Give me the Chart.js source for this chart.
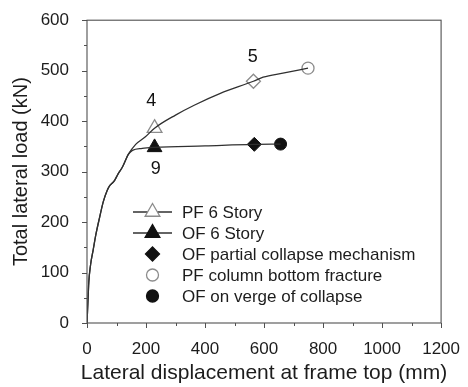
<!DOCTYPE html>
<html><head><meta charset="utf-8">
<script src="https://cdn.jsdelivr.net/npm/chart.js@4"></script>
<style>html,body{margin:0;padding:0;background:#fff}#wrap{width:468px;height:387px}</style>
</head><body><div id="wrap"><canvas id="c" width="468" height="387"></canvas></div>
<script>
// Pushover curves (lateral displacement at frame top in mm, total lateral load in kN)
const pfCurveX = [0,3,6,12,21,30,43,55,68,77,85,93,105,121,140,165,198,229,300,365,452,564,597,664,749];
const pfCurveY = [0,40,80,115,145,175,210,240,262,272,277,282,295,310,334,354,369,386,412,432,455,479,487,495,505];
const ofCurveX = [0,3,6,12,21,30,43,55,68,77,85,93,105,121,140,154,187,229,400,567,656];
const ofCurveY = [0,40,80,115,145,175,210,240,262,272,277,282,295,310,334,342,346,348,351,354,354.5];
// Marker points [mm, kN]
const pfStoryPt = [229,386];
const ofStoryPt = [229,348];
const pfDiamondPt = [564,479];
const ofCollapseMechPt = [567,354];
const pfFracturePt = [749,505];
const ofVergePt = [656,354.5];
// Annotations
const noteLabels = ['4','5','9'];
const notePts = [[218,440],[562,527],[233,305]];
// Legend
const legendLabels = ['PF 6 Story','OF 6 Story','OF partial collapse mechanism','PF column bottom fracture','OF on verge of collapse'];
// Axis titles and ticks
const xTitle = 'Lateral displacement at frame top (mm)';
const yTitle = 'Total lateral load (kN)';
const xTicks = [0,200,400,600,800,1000,1200];
const yTicks = [0,100,200,300,400,500,600];

const FONT = '"Liberation Sans", Arial, sans-serif';
const toXY = (xs, ys) => xs.map((x,i)=>({x, y: ys[i]}));
const pt = p => [{x:p[0], y:p[1]}];

const lineC = '#303030';
const openC = '#8c8c8c';
const darkC = '#111';
const textC = '#1c1c1c';

const datasets = [
  {data: toXY(pfCurveX,pfCurveY), borderColor: lineC, borderWidth: 1.3, pointRadius: 0, cubicInterpolationMode: 'monotone', showLine: true},
  {data: toXY(ofCurveX,ofCurveY), borderColor: lineC, borderWidth: 1.3, pointRadius: 0, cubicInterpolationMode: 'monotone', showLine: true},
  {data: pt(pfStoryPt), pointStyle:'triangle', pointRadius:8.5, backgroundColor:'#fff', borderColor:openC, borderWidth:1.3, showLine:false},
  {data: pt(ofStoryPt), pointStyle:'triangle', pointRadius:8.5, backgroundColor:darkC, borderColor:darkC, borderWidth:1, showLine:false},
  {data: pt(pfDiamondPt), pointStyle:'rectRot', pointRadius:7, backgroundColor:'#fff', borderColor:openC, borderWidth:1.3, showLine:false},
  {data: pt(ofCollapseMechPt), pointStyle:'rectRot', pointRadius:7, backgroundColor:darkC, borderColor:darkC, borderWidth:1, showLine:false},
  {data: pt(pfFracturePt), pointStyle:'circle', pointRadius:6, backgroundColor:'#fff', borderColor:openC, borderWidth:1.3, showLine:false},
  {data: pt(ofVergePt), pointStyle:'circle', pointRadius:6, backgroundColor:darkC, borderColor:darkC, borderWidth:1, showLine:false},
];

const decor = {
  id: 'decor',
  afterDraw(chart) {
    const ctx = chart.ctx, xs = chart.scales.x, ys = chart.scales.y, ca = chart.chartArea;
    ctx.save();
    ctx.strokeStyle = '#505050'; ctx.lineWidth = 1.1;
    ctx.strokeRect(ca.left, ca.top, ca.right-ca.left, ca.bottom-ca.top);
    ctx.lineWidth = 1;
    for (let v = 0; v <= 1200; v += 100) {
      const px = Math.round(xs.getPixelForValue(v))+0.5;
      const len = v % 200 === 0 ? 5 : 3;
      ctx.beginPath(); ctx.moveTo(px, ca.bottom); ctx.lineTo(px, ca.bottom+len); ctx.stroke();
    }
    for (let v = 0; v <= 600; v += 50) {
      const py = Math.round(ys.getPixelForValue(v))+0.5;
      const len = v % 100 === 0 ? 5 : 3;
      ctx.beginPath(); ctx.moveTo(ca.left-len, py); ctx.lineTo(ca.left, py); ctx.stroke();
    }
    // annotations
    ctx.fillStyle = darkC; ctx.font = '18px ' + FONT; ctx.textAlign = 'center'; ctx.textBaseline = 'middle';
    noteLabels.forEach((t,i)=>{
      ctx.fillText(t, xs.getPixelForValue(notePts[i][0]), ys.getPixelForValue(notePts[i][1]));
    });
    // axis titles
    ctx.fillStyle = textC; ctx.textBaseline = 'alphabetic';
    ctx.font = '21px ' + FONT;
    ctx.fillText(xTitle, (ca.left+ca.right)/2, 379);
    ctx.save();
    ctx.font = '20px ' + FONT;
    ctx.translate(26.5, (ca.top+ca.bottom)/2);
    ctx.rotate(-Math.PI/2);
    ctx.fillText(yTitle, 0, 0);
    ctx.restore();
    // legend
    const lx = 133, lw = 39, tx = 182, y0 = 212, dy = 21;
    const styles = [
      {line:true, ps:'triangle', r:8.5, fill:'#fff', stroke:openC},
      {line:true, ps:'triangle', r:8.5, fill:darkC, stroke:darkC},
      {line:false, ps:'rectRot', r:7, fill:darkC, stroke:darkC},
      {line:false, ps:'circle', r:6, fill:'#fff', stroke:openC},
      {line:false, ps:'circle', r:6, fill:darkC, stroke:darkC},
    ];
    ctx.textAlign = 'left'; ctx.textBaseline = 'middle'; ctx.font = '17px ' + FONT;
    legendLabels.forEach((t,i)=>{
      const y = y0 + i*dy, s = styles[i], cx = lx + lw/2;
      if (s.line) {
        ctx.strokeStyle = lineC; ctx.lineWidth = 1.3;
        ctx.beginPath(); ctx.moveTo(lx, y); ctx.lineTo(lx+lw, y); ctx.stroke();
      }
      ctx.fillStyle = s.fill; ctx.strokeStyle = s.stroke; ctx.lineWidth = 1.3;
      Chart.helpers.drawPoint(ctx, {pointStyle: s.ps, radius: s.r, borderWidth: 1.3}, cx, y);
      ctx.fillStyle = textC;
      ctx.fillText(t, tx, y+1);
    });
    ctx.restore();
  }
};

new Chart(document.getElementById('c'), {
  type: 'scatter',
  data: {datasets},
  options: {
    responsive: false, animation: false, devicePixelRatio: 1,
    layout: {padding: {top: 20, right: 20, left: 0, bottom: 0}},
    plugins: {legend: {display:false}, tooltip: {enabled:false}},
    scales: {
      x: {
        type: 'linear', min: 0, max: 1200,
        afterBuildTicks: s => { s.ticks = xTicks.map(v=>({value:v})); },
        afterFit: s => { s.height = 64; },
        grid: {display: false}, border: {display: false},
        ticks: {padding: 8, color: textC, font: {family: FONT, size: 17}, maxRotation: 0, autoSkip: false, callback: v => String(v)},
        title: {display: false}
      },
      y: {
        type: 'linear', min: 0, max: 600,
        afterBuildTicks: s => { s.ticks = yTicks.map(v=>({value:v})); },
        afterFit: s => { s.width = 87; },
        grid: {display: false}, border: {display: false},
        ticks: {padding: 10, color: textC, font: {family: FONT, size: 17}, callback: v => String(v)},
        title: {display: false}
      }
    }
  },
  plugins: [decor]
});
</script>
</body></html>
